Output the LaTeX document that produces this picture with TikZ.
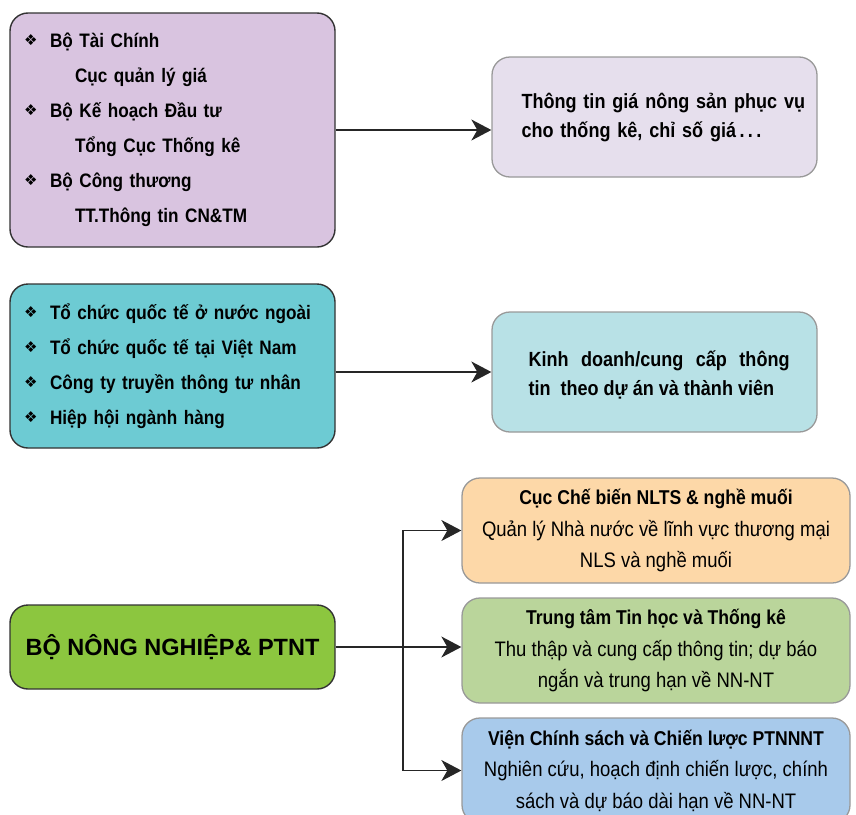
\documentclass[tikz,border=0pt]{standalone}
\usepackage{fontspec}
\setmainfont[FakeStretch=0.88]{Liberation Sans}
\newfontfamily\widefont{Liberation Sans}
\newfontfamily\symfont{DejaVu Sans}
\usepackage{tikz}
\usetikzlibrary{arrows.meta,positioning}
\definecolor{govcol}{HTML}{D9C4E0}
\definecolor{pricecol}{HTML}{E6DFED}
\definecolor{intlcol}{HTML}{6DCBD3}
\definecolor{tradecol}{HTML}{B8E1E6}
\definecolor{moacol}{HTML}{8CC63F}
\definecolor{nltscol}{HTML}{FDD8A8}
\definecolor{statcol}{HTML}{BAD59B}
\definecolor{policycol}{HTML}{A8CAEB}
\newcommand{\dia}{\makebox[26pt][l]{\raisebox{2pt}{\symfont\fontsize{15}{15}\selectfont ❖}}}
\tikzset{
  arrow/.style={-{Stealth[length=20pt,width=21pt,inset=6pt]},line width=1.6pt,black!85},
  srcbox/.style={draw=black!80,line width=1.4pt,rounded corners=18pt,inner ysep=0pt},
  infobox/.style={draw=black!40,line width=1.3pt,rounded corners=18pt,
    minimum width=325pt,minimum height=120pt},
  unitbox/.style={draw=black!40,line width=1.3pt,rounded corners=18pt,
    minimum width=388pt,minimum height=105pt,align=center,
    font=\fontsize{21}{31.5}\selectfont},
  listtext/.style={align=left,text width=297pt,inner xsep=14pt,
    font=\bfseries\fontsize{19.5}{35}\selectfont},
  infotext/.style={anchor=west,inner sep=0pt,font=\bfseries\fontsize{20.5}{29}\selectfont}
}
\begin{document}
\begin{tikzpicture}[x=1pt,y=-1pt]
  \clip (0,0) rectangle (856,814);

  % ministries -> price information
  \node[srcbox,listtext,fill=govcol,minimum height=234pt] (gov) at (172.5,130) {%
    \dia Bộ Tài Chính\\
    \hspace*{51pt}Cục quản lý giá\\
    \dia Bộ Kế hoạch Đầu tư\\
    \hspace*{51pt}Tổng Cục Thống kê\\
    \dia Bộ Công thương\\
    \hspace*{51pt}TT.Thông tin CN\&TM};
  \node[infobox,fill=pricecol] (price) at (654.5,117) {};
  \node[infotext,text width=290pt,align=left] (pricetxt) at ([xshift=30pt,yshift=-1pt]price.west)
    {Thông tin giá nông sản phục vụ\\cho thống kê, chỉ số giá\,.\,.\,.};
  \draw[arrow] (gov.east) -- (gov.east -| price.west);

  % organisations -> trade information
  \node[srcbox,listtext,fill=intlcol,minimum height=164pt] (intl) at (172.5,366) {%
    \dia Tổ chức quốc tế ở nước ngoài\\
    \dia Tổ chức quốc tế tại Việt Nam\\
    \dia Công ty truyền thông tư nhân\\
    \dia Hiệp hội ngành hàng};
  \node[infobox,fill=tradecol] (trade) at (654.5,372) {};
  \node[infotext,text width=261pt,align=justify] (tradetxt) at ([xshift=37pt,yshift=-3pt]trade.west)
    {Kinh doanh/cung cấp thông tin~ theo dự án và thành viên};
  \draw[arrow] (intl.east |- trade.west) -- (trade.west);

  % ministry of agriculture -> units
  \node[srcbox,fill=moacol,minimum width=325pt,minimum height=84pt,
    font=\widefont\bfseries\fontsize{23.5}{28}\selectfont] (moa) at (172.5,647)
    {BỘ NÔNG NGHIỆP\& PTNT};
  \node[unitbox,fill=nltscol] (nlts) at (656,530.5)
    {{\bfseries\fontsize{20}{31.5}\selectfont Cục Chế biến NLTS \& nghề muối}\\
     Quản lý Nhà nước về lĩnh vực thương mại\\NLS và nghề muối};
  \node[unitbox,fill=statcol] (stats) at (656,650.5)
    {{\bfseries\fontsize{20}{31.5}\selectfont Trung tâm Tin học và Thống kê}\\
     Thu thập và cung cấp thông tin; dự báo\\ngắn và trung hạn về NN-NT};
  \node[unitbox,fill=policycol] (policy) at (656,770.5)
    {{\bfseries\fontsize{20}{31.5}\selectfont Viện Chính sách và Chiến lược PTNNNT}\\
     Nghiên cứu, hoạch định chiến lược, chính\\sách và dự báo dài hạn về NN-NT};
  \coordinate (split) at (403,648);
  \draw[arrow] (moa.east) -- (moa.east -| stats.west);
  \draw[arrow,line width=1.2pt] (split) |- (nlts.west);
  \draw[arrow,line width=1.2pt] (split) |- (policy.west);
\end{tikzpicture}
\end{document}
